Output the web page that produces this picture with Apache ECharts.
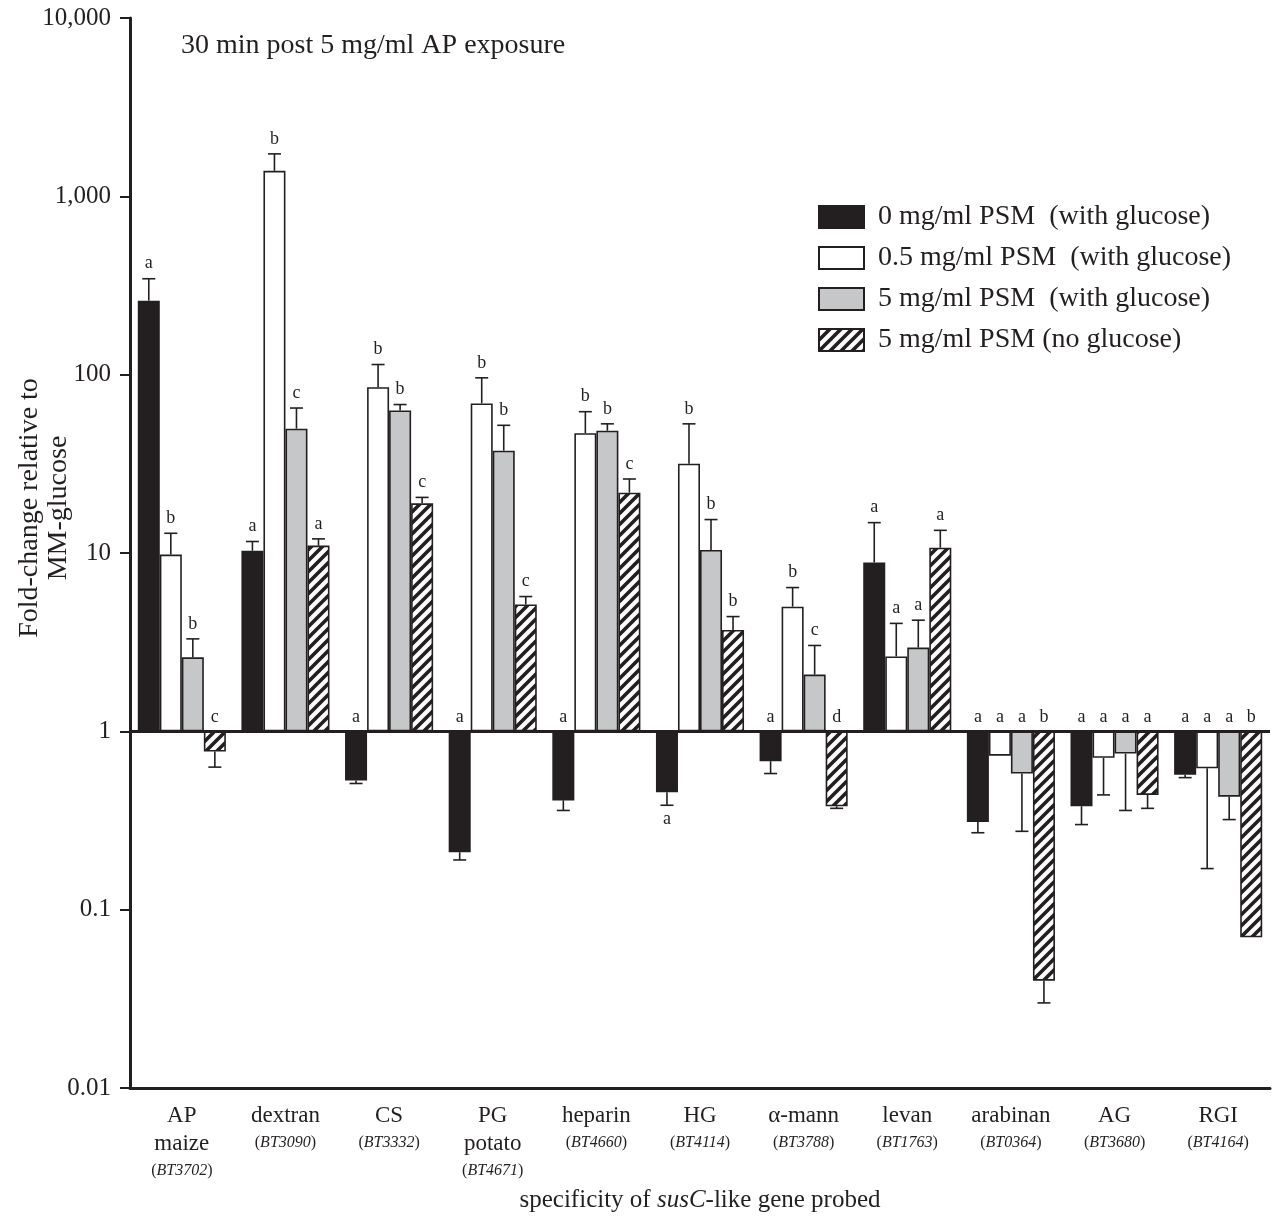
<!DOCTYPE html>
<html>
<head>
<meta charset="utf-8">
<script src="https://cdn.jsdelivr.net/npm/echarts@6/dist/echarts.min.js"></script>
<style>
  html, body { margin: 0; padding: 0; background: #fff; }
  #chart { width: 1272px; height: 1223px; }
</style>
</head>
<body>
<div id="chart"></div>
<script>
// categories and gene ids
const categories = ['AP\nmaize', 'dextran', 'CS', 'PG\npotato', 'heparin', 'HG', 'α-mann', 'levan', 'arabinan', 'AG', 'RGI'];
const geneIds = ['BT3702', 'BT3090', 'BT3332', 'BT4671', 'BT4660', 'BT4114', 'BT3788', 'BT1763', 'BT0364', 'BT3680', 'BT4164'];

const seriesNames = [
    '0 mg/ml PSM  (with glucose)',
    '0.5 mg/ml PSM  (with glucose)',
    '5 mg/ml PSM  (with glucose)',
    '5 mg/ml PSM (no glucose)',
];

// fold change (bar) and end of error bar
const psm0 = [260, 10.3, 0.53, 0.21, 0.41, 0.455, 0.68, 8.85, 0.31, 0.38, 0.57];
const psm0Err = [345, 11.6, 0.51, 0.19, 0.36, 0.385, 0.58, 14.8, 0.27, 0.30, 0.55];
const psm05 = [9.8, 1390, 85, 69, 47, 31.7, 5.0, 2.63, 0.73, 0.71, 0.62];
const psm05Err = [12.9, 1730, 114, 96, 62, 53, 6.4, 4.03, 0.73, 0.44, 0.17];
const psm5 = [2.6, 49.8, 63, 37.5, 48.5, 10.4, 2.08, 2.95, 0.58, 0.75, 0.43];
const psm5Err = [3.3, 65, 68, 52, 53, 15.4, 3.03, 4.2, 0.275, 0.36, 0.32];
const psm5ng = [0.77, 11, 19, 5.15, 21.8, 3.7, 0.38, 10.7, 0.04, 0.44, 0.07];
const psm5ngErr = [0.63, 12, 20.5, 5.7, 26, 4.4, 0.37, 13.4, 0.030, 0.37, 0.07];

// significance letters per category (series order)
const letters = [
    ['a', 'b', 'b', 'c'],
    ['a', 'b', 'c', 'a'],
    ['a', 'b', 'b', 'c'],
    ['a', 'b', 'b', 'c'],
    ['a', 'b', 'b', 'c'],
    ['a', 'b', 'b', 'b'],
    ['a', 'b', 'c', 'd'],
    ['a', 'a', 'a', 'a'],
    ['a', 'a', 'a', 'b'],
    ['a', 'a', 'a', 'a'],
    ['a', 'a', 'a', 'b'],
];
// letters drawn under the error bar instead of above the baseline
const letterBelow = [[5, 0]];

const yTicks = [0.01, 0.1, 1, 10, 100, 1000, 10000];

const values = [psm0, psm05, psm5, psm5ng];
const errs = [psm0Err, psm05Err, psm5Err, psm5ngErr];

const FONT = '"Liberation Serif", "Times New Roman", serif';
const INK = '#231f20';
const CAT_GAP = 0.15;

// hatch pattern for the no-glucose bars
function makeHatch() {
    const c = document.createElement('canvas');
    const n = 11;
    c.width = n; c.height = n;
    const ctx = c.getContext('2d');
    ctx.fillStyle = '#fff';
    ctx.fillRect(0, 0, n, n);
    ctx.strokeStyle = INK;
    ctx.lineWidth = 3.6;
    ctx.beginPath();
    ctx.moveTo(-2, n + 2); ctx.lineTo(n + 2, -2);
    ctx.moveTo(-2, 2); ctx.lineTo(2, -2);
    ctx.moveTo(n - 2, n + 2); ctx.lineTo(n + 2, n - 2);
    ctx.stroke();
    return c;
}
const hatch = { image: makeHatch(), repeat: 'repeat' };
const fills = [INK, '#ffffff', '#c6c7c8', hatch];

const myChart = echarts.init(document.getElementById('chart'));

const errData = [];
categories.forEach((c, i) => {
    for (let s = 0; s < 4; s++) {
        errData.push([i, s, values[s][i], errs[s][i]]);
    }
});

function renderErr(params, api) {
    const cat = api.value(0);
    const s = api.value(1);
    const v = api.value(2);
    const e = api.value(3);
    const band = api.coord([1, 1])[0] - api.coord([0, 1])[0];
    const barW = band * (1 - CAT_GAP) / 4;
    const x = api.coord([cat, 1])[0] + (s - 1.5) * barW;
    const yBar = api.coord([cat, v])[1];
    const yErr = api.coord([cat, e])[1];
    const yBase = api.coord([cat, 1])[1];
    const children = [];
    if (Math.abs(yErr - yBar) > 0.5) {
        children.push({
            type: 'line',
            shape: { x1: x, y1: yBar, x2: x, y2: yErr },
            style: { stroke: INK, lineWidth: 1.6 },
        });
        children.push({
            type: 'line',
            shape: { x1: x - 6.5, y1: yErr, x2: x + 6.5, y2: yErr },
            style: { stroke: INK, lineWidth: 1.6 },
        });
    }
    const below = letterBelow.some(p => p[0] === cat && p[1] === s);
    let ty, va;
    if (below) {
        ty = Math.max(yErr, yBar) + 5; va = 'top';
    } else if (v >= 1) {
        ty = Math.min(yErr, yBar) - 6; va = 'bottom';
    } else {
        ty = yBase - 5; va = 'bottom';
    }
    children.push({
        type: 'text',
        style: {
            text: letters[cat][s],
            x: x, y: ty,
            align: 'center', verticalAlign: va,
            font: '18px ' + FONT,
            fill: INK,
        },
    });
    return { type: 'group', children: children };
}

const barSeries = values.map((arr, s) => ({
    name: seriesNames[s],
    type: 'bar',
    data: arr,
    barGap: '0%',
    barCategoryGap: (CAT_GAP * 100) + '%',
    itemStyle: {
        color: fills[s],
        borderColor: INK,
        borderWidth: 1.6,
    },
    emphasis: { disabled: true },
    silent: true,
    z: 2,
}));

barSeries[0].markLine = {
    silent: true,
    symbol: 'none',
    label: { show: false },
    lineStyle: { color: INK, width: 3, type: 'solid' },
    data: [{ yAxis: 1 }],
    z: 5,
};

myChart.setOption({
    animation: false,
    backgroundColor: '#fff',
    textStyle: { fontFamily: FONT },
    grid: { left: 130, right: 2, top: 18, bottom: 135 },
    legend: {
        orient: 'vertical',
        left: 813,
        top: 198,
        icon: 'rect',
        itemWidth: 45,
        itemHeight: 22,
        itemGap: 13,
        selectedMode: false,
        data: seriesNames,
        textStyle: { fontFamily: FONT, fontSize: 28, color: INK, padding: [0, 0, 0, 9] },
    },
    graphic: [
        {
            type: 'text',
            left: 181,
            top: 32,
            style: { text: '30 min post 5 mg/ml AP exposure', font: '28px ' + FONT, fill: INK },
        },
        {
            type: 'text',
            x: 44,
            y: 508,
            rotation: Math.PI / 2,
            style: {
                text: 'Fold-change relative to\nMM-glucose',
                font: '28px ' + FONT,
                fill: INK,
                align: 'center',
                verticalAlign: 'middle',
                lineHeight: 29,
            },
        },
    ],
    xAxis: {
        type: 'category',
        data: categories,
        name: 'specificity of {i|susC}-like gene probed',
        nameLocation: 'middle',
        nameGap: 100,
        nameTextStyle: {
            fontFamily: FONT, fontSize: 25, color: INK,
            rich: { i: { fontFamily: FONT, fontSize: 25, fontStyle: 'italic', color: INK } },
        },
        axisLine: { lineStyle: { color: INK, width: 3 } },
        axisTick: { alignWithLabel: true, length: 9, lineStyle: { color: INK, width: 2 } },
        axisLabel: {
            interval: 0,
            margin: 14,
            color: INK,
            formatter: (val, idx) => {
                const lines = val.split('\n').map(t => '{n|' + t + '}');
                lines.push('{p|(}{g|' + geneIds[idx] + '}{p|)}');
                return lines.join('\n');
            },
            rich: {
                n: { fontFamily: FONT, fontSize: 23, lineHeight: 28, color: INK },
                p: { fontFamily: FONT, fontSize: 16, lineHeight: 26, color: INK },
                g: { fontFamily: FONT, fontSize: 16, lineHeight: 26, fontStyle: 'italic', color: INK },
            },
        },
        splitLine: { show: false },
    },
    yAxis: {
        type: 'log',
        logBase: 10,
        min: yTicks[0],
        max: yTicks[yTicks.length - 1],
        interval: 1,
        axisLine: { show: true, lineStyle: { color: INK, width: 3 } },
        axisTick: { show: true, length: 10, lineStyle: { color: INK, width: 2 } },
        axisLabel: {
            margin: 19,
            fontFamily: FONT,
            fontSize: 25,
            color: INK,
            formatter: v => {
                const n = Number(v.toPrecision(3));
                return n >= 1000 ? n.toLocaleString('en-US') : String(n);
            },
        },
        splitLine: { show: false },
        minorTick: { show: false },
    },
    series: [
        ...barSeries,
        {
            type: 'custom',
            data: errData,
            renderItem: renderErr,
            silent: true,
            z: 4,
            encode: { x: 0, y: 2 },
        },
    ],
});
</script>
</body>
</html>
